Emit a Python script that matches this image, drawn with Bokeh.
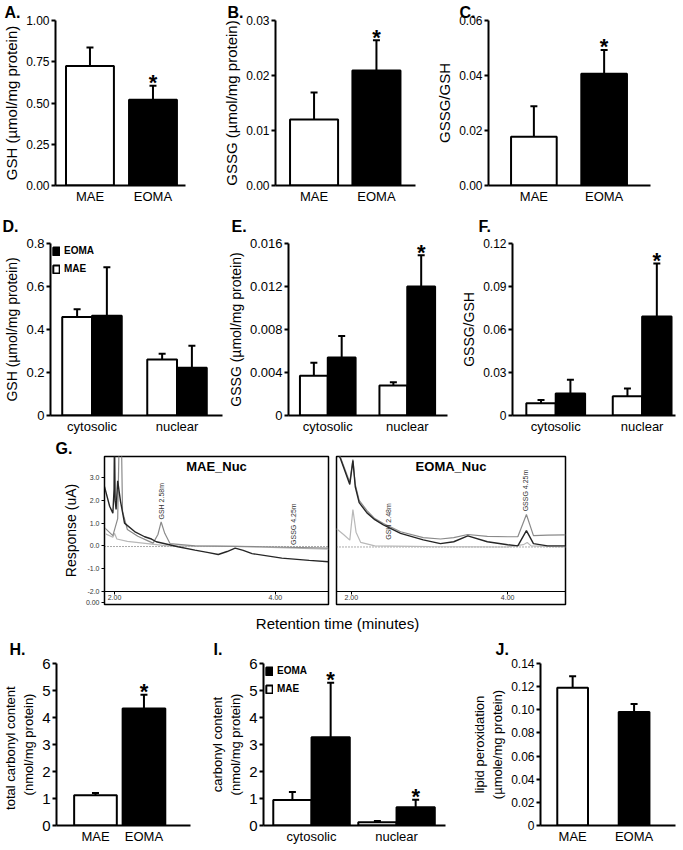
import math
from bokeh.plotting import figure
from bokeh.layouts import row, column
from bokeh.models import (ColumnDataSource, Whisker, TeeHead, FixedTicker, Legend, LegendItem,
                          Label, Range1d, CustomJSTickFormatter, Title)
from bokeh.core.properties import value
from bokeh.embed import file_html
from bokeh.resources import INLINE

FONT = "Liberation Sans"

# ---------------- data ----------------
cells = ["MAE", "EOMA"]
fractions = ["cytosolic", "nuclear"]

A_mean = [0.725, 0.519]
A_sem = [0.111, 0.085]
A_star = [False, True]
A_yticks = [0, 0.25, 0.5, 0.75, 1.0]
A_ylabels = ["0.00", "0.25", "0.50", "0.75", "1.00"]

B_mean = [0.0120, 0.0209]
B_sem = [0.0049, 0.0055]
B_star = [False, True]
B_yticks = [0, 0.01, 0.02, 0.03]
B_ylabels = ["0.00", "0.01", "0.02", "0.03"]

C_mean = [0.0177, 0.0406]
C_sem = [0.0111, 0.0087]
C_star = [False, True]
C_yticks = [0, 0.02, 0.04, 0.06]
C_ylabels = ["0.00", "0.02", "0.04", "0.06"]

D_mae = [0.458, 0.260]
D_mae_sem = [0.036, 0.027]
D_eoma = [0.464, 0.222]
D_eoma_sem = [0.226, 0.103]
D_star = [False, False]
D_yticks = [0, 0.2, 0.4, 0.6, 0.8]
D_ylabels = ["0", "0.2", "0.4", "0.6", "0.8"]

E_mae = [0.0037, 0.0028]
E_mae_sem = [0.0012, 0.0003]
E_eoma = [0.0054, 0.0120]
E_eoma_sem = [0.0020, 0.0029]
E_star = [False, True]
E_yticks = [0, 0.004, 0.008, 0.012, 0.016]
E_ylabels = ["0", "0.004", "0.008", "0.012", "0.016"]

F_mae = [0.0086, 0.0135]
F_mae_sem = [0.0022, 0.0054]
F_eoma = [0.0153, 0.069]
F_eoma_sem = [0.0096, 0.037]
F_star = [False, True]
F_yticks = [0, 0.03, 0.06, 0.09, 0.12]
F_ylabels = ["0", "0.03", "0.06", "0.09", "0.12"]

H_mean = [1.12, 4.33]
H_sem = [0.08, 0.51]
H_star = [False, True]
H_yticks = [0, 1, 2, 3, 4, 5, 6]
H_ylabels = ["0", "1", "2", "3", "4", "5", "6"]

I_mae = [0.94, 0.12]
I_mae_sem = [0.30, 0.05]
I_eoma = [3.27, 0.68]
I_eoma_sem = [2.02, 0.27]
I_star = [True, True]
I_yticks = [0, 1, 2, 3, 4, 5, 6]
I_ylabels = ["0", "1", "2", "3", "4", "5", "6"]

J_mean = [0.119, 0.098]
J_sem = [0.010, 0.007]
J_star = [False, False]
J_yticks = [0, 0.02, 0.04, 0.06, 0.08, 0.10, 0.12, 0.14]
J_ylabels = ["0", "0.02", "0.04", "0.06", "0.08", "0.10", "0.12", "0.14"]

# chromatograms (retention time in min, response in uA)
G_yticks = [-2.5, -2, -1, 0, 1, 2, 3]
G_ylabels = ["0.00", "-2.0", "-1.0", "0.0", "1.0", "2.0", "3.0"]
G_xticks = [2.0, 4.0]
G_xlabels = ["2.00", "4.00"]

mae_dark_t = [1.876, 1.94, 1.98, 1.995, 2.0, 2.008, 2.02, 2.04, 2.075, 2.125, 2.25, 2.375,
              2.46, 2.52, 2.79, 3.0, 3.17, 3.29, 3.4, 3.5, 3.6, 3.71, 4.08, 4.42, 4.66]
mae_dark_r = [2.6, 1.74, 1.44, 2.5, 5.0, 2.0, 1.6, 2.86, 1.96, 1.0, 0.63, 0.4,
              0.3, 0.18, -0.04, -0.19, -0.3, -0.38, -0.25, -0.1, -0.2, -0.34, -0.54, -0.64, -0.7]
mae_gray_t = [1.876, 1.98, 2.04, 2.06, 2.085, 2.1, 2.16, 2.29, 2.41, 2.48, 2.54, 2.58,
              2.625, 2.69, 3.0, 3.83, 4.66]
mae_gray_r = [0.8, 0.45, 1.2, 5.0, 5.0, 1.52, 0.72, 0.42, 0.23, 0.12, 0.5, 1.05,
              0.55, 0.1, 0.0, -0.04, -0.1]
mae_light_t = [1.876, 1.98, 2.0, 2.03, 2.16, 2.41, 2.66, 3.5, 4.66]
mae_light_r = [0.55, 0.38, 0.55, 0.3, 0.2, 0.1, 0.0, -0.02, -0.15]
mae_base_t = [1.876, 4.66]
mae_base_r = [-0.03, -0.03]
mae_peak_t = [2.585, 4.22]
mae_peak_r = [1.07, -0.05]
mae_peak_txt = ["GSH 2.58m", "GSSG 4.25m"]

eoma_t = [1.81, 1.86, 1.98, 2.02, 2.05, 2.1, 2.2, 2.3, 2.41, 2.63, 2.92, 3.14, 3.31,
          3.49, 3.74, 4.0, 4.13, 4.24, 4.33, 4.51, 4.74]
eoma_dark_r = [4.2, 3.84, 2.7, 3.75, 2.6, 1.9, 1.45, 1.15, 0.92, 0.55, 0.26, 0.1, 0.18,
               0.44, 0.18, 0.05, 0.0, 0.67, 0.1, 0.0, 0.0]
eoma_gray_r = [4.5, 3.9, 2.8, 3.8, 2.7, 2.0, 1.55, 1.2, 0.98, 0.62, 0.36, 0.3, 0.36,
               0.5, 0.42, 0.4, 0.4, 1.38, 0.45, 0.47, 0.48]
eoma_light_t = [1.81, 1.9, 1.98, 2.02, 2.06, 2.12, 2.3, 3.0, 4.0, 4.2, 4.25, 4.3, 4.74]
eoma_light_r = [0.75, 0.5, 0.25, 1.6, 0.6, 0.15, 0.0, -0.03, -0.05, 0.05, 0.15, 0.0, -0.05]
eoma_base_t = [1.81, 4.74]
eoma_base_r = [-0.05, -0.05]
eoma_peak_t = [2.47, 4.23]
eoma_peak_r = [0.18, 1.43]
eoma_peak_txt = ["GSH 2.48m", "GSSG 4.25m"]


# ---------------- helpers ----------------
def label_formatter(ticks, labels):
    return CustomJSTickFormatter(args=dict(tv=list(ticks), tl=list(labels)), code="""
        let best = 0;
        for (let i = 0; i < tv.length; i++) {
            if (Math.abs(tv[i] - tick) < Math.abs(tv[best] - tick)) { best = i; }
        }
        return tl[best];
    """)


def bar_fig(w, h, borders, xr, ymax):
    l, r, t, b = borders
    p = figure(width=w, height=h, x_range=Range1d(*xr), y_range=Range1d(0, ymax),
               output_backend="svg", toolbar_location=None, title=None,
               min_border_left=l, min_border_right=r, min_border_top=t, min_border_bottom=b)
    p.outline_line_color = None
    p.grid.visible = False
    return p


def style_axes(p, yticks, ylabels, ylabel, xticks, xlabels, tick_fs, title_fs, cat_fs):
    ya = p.yaxis[0]
    ya.ticker = FixedTicker(ticks=yticks)
    ya.formatter = label_formatter(yticks, ylabels)
    ya.axis_label = ylabel
    ya.axis_label_text_font = FONT
    ya.axis_label_text_font_size = f"{title_fs}px"
    ya.axis_label_text_font_style = "normal"
    ya.axis_label_text_color = "black"
    ya.axis_label_standoff = 3
    ya.major_label_text_font = FONT
    ya.major_label_text_font_size = f"{tick_fs}px"
    ya.major_label_text_color = "black"
    ya.major_label_standoff = 2
    ya.axis_line_width = 2
    ya.major_tick_line_width = 2
    ya.major_tick_out = 4
    ya.major_tick_in = 0
    ya.minor_tick_line_color = None
    xa = p.xaxis[0]
    xa.ticker = FixedTicker(ticks=xticks)
    xa.formatter = label_formatter(xticks, xlabels)
    xa.major_tick_line_color = None
    xa.major_tick_out = 0
    xa.major_tick_in = 0
    xa.minor_tick_line_color = None
    xa.axis_line_width = 2
    xa.major_label_text_font = FONT
    xa.major_label_text_font_size = f"{cat_fs}px"
    xa.major_label_text_color = "black"
    xa.major_label_standoff = 3


def add_bars(p, xs, means, sems, color, width):
    r = p.vbar(x=xs, top=means, width=width, fill_color=color, line_color="black", line_width=2)
    src = ColumnDataSource(dict(base=xs, lower=means, upper=[m + s for m, s in zip(means, sems)]))
    p.add_layout(Whisker(source=src, base="base", lower="lower", upper="upper",
                         line_color="black", line_width=2, lower_head=None,
                         upper_head=TeeHead(size=7, line_color="black", line_width=2)))
    return r


def add_stars(p, xs, means, sems, stars):
    sx = [x for x, s in zip(xs, stars) if s]
    sy = [m + e for m, e, s in zip(means, sems, stars) if s]
    if sx:
        p.text(x=sx, y=sy, text=["*"] * len(sx), text_font=value(FONT), text_font_size="22px",
               text_font_style="bold", text_align="center", text_baseline="alphabetic",
               y_offset=-3, text_color="black")


def letter(p, txt, offset, standoff):
    p.add_layout(Title(text=txt, align="left", offset=offset, standoff=standoff,
                       text_font=FONT, text_font_size="16px", text_font_style="bold",
                       text_color="black"), "above")


def add_legend(p, r_eoma, r_mae):
    lg = Legend(items=[LegendItem(label="EOMA", renderers=[r_eoma]),
                       LegendItem(label="MAE", renderers=[r_mae])],
                location="top_left", margin=2, padding=0, spacing=7,
                glyph_width=8, glyph_height=10, label_height=10, label_standoff=4,
                label_text_font=FONT, label_text_font_size="10px", label_text_font_style="bold",
                label_text_color="black",
                border_line_color=None, background_fill_alpha=0)
    p.add_layout(lg)


def simple_panel(w, h, borders, xr, ymax, means, sems, stars, yticks, ylabels, ylabel,
                 width, tick_fs, title_fs, cat_fs):
    p = bar_fig(w, h, borders, xr, ymax)
    xs = list(range(len(cells)))
    style_axes(p, yticks, ylabels, ylabel, xs, cells, tick_fs, title_fs, cat_fs)
    colors = ["white", "black"]
    for i in xs:
        add_bars(p, [xs[i]], [means[i]], [sems[i]], colors[i], width)
    add_stars(p, xs, means, sems, stars)
    return p


def grouped_panel(w, h, borders, xr, ymax, mae, mae_sem, eoma, eoma_sem, stars, yticks,
                  ylabels, ylabel, off, width, tick_fs, title_fs, cat_fs, legend=False):
    p = bar_fig(w, h, borders, xr, ymax)
    g = list(range(len(fractions)))
    style_axes(p, yticks, ylabels, ylabel, g, fractions, tick_fs, title_fs, cat_fs)
    x_mae = [i - off for i in g]
    x_eoma = [i + off for i in g]
    r_mae = add_bars(p, x_mae, mae, mae_sem, "white", width)
    r_eoma = add_bars(p, x_eoma, eoma, eoma_sem, "black", width)
    add_stars(p, x_eoma, eoma, eoma_sem, stars)
    if legend:
        add_legend(p, r_eoma, r_mae)
    return p


# ---------------- row 1 ----------------
H1 = 206
pA = simple_panel(220, H1, (53, 35, 20, 20), (-0.547, 1.516), 1.0, A_mean, A_sem, A_star,
                  A_yticks, A_ylabels, "GSH (\u00b5mol/mg protein)", 0.76, 12, 15, 13)
letter(pA, "A.", -51, 0)
pB = simple_panel(213, H1, (48, 18, 20, 20), (-0.618, 1.626), 0.03, B_mean, B_sem, B_star,
                  B_yticks, B_ylabels, "GSSG (\u00b5mol/mg protein)", 0.77, 12, 15, 13)
letter(pB, "B.", -48, 0)
pC = simple_panel(249, H1, (51, 32, 20, 20), (-0.646, 1.66), 0.06, C_mean, C_sem, C_star,
                  C_yticks, C_ylabels, "GSSG/GSH", 0.65, 12, 15, 13)
letter(pC, "C.", -29, 0)

# ---------------- row 2 ----------------
H2 = 230
pD = grouped_panel(224, H2, (50, 2, 37, 18), (-0.488, 1.535), 0.8, D_mae, D_mae_sem, D_eoma,
                   D_eoma_sem, D_star, D_yticks, D_ylabels, "GSH (\u00b5mol/mg protein)",
                   0.175, 0.35, 13, 14, 13, legend=True)
letter(pD, "D.", -48, 18)
pE = grouped_panel(234, H2, (57, 11, 37, 18), (-0.494, 1.506), 0.016, E_mae, E_mae_sem, E_eoma,
                   E_eoma_sem, E_star, E_yticks, E_ylabels, "GSSG (\u00b5mol/mg protein)",
                   0.175, 0.35, 13, 14, 13)
letter(pE, "E.", -57, 18)
pF = grouped_panel(224, H2, (51, 7, 37, 18), (-0.5, 1.386), 0.12, F_mae, F_mae_sem, F_eoma,
                   F_eoma_sem, F_star, F_yticks, F_ylabels, "GSSG/GSH",
                   0.17, 0.34, 12, 14, 13)
letter(pF, "F.", -34, 18)

# ---------------- row 3 (chromatograms) ----------------
HG = 178
YR = (-2.58, 3.93)


def chrom_fig(w, borders, xr, show_y):
    l, r, t, b = borders
    p = figure(width=w, height=HG, x_range=Range1d(*xr), y_range=Range1d(*YR),
               output_backend="svg", toolbar_location=None, title=None,
               y_axis_location="left" if show_y else None,
               min_border_left=l, min_border_right=r, min_border_top=t, min_border_bottom=b)
    p.outline_line_color = "black"
    p.outline_line_width = 1.5
    p.grid.visible = False
    xa = p.xaxis[0]
    xa.fixed_location = -2.0
    xa.ticker = FixedTicker(ticks=G_xticks)
    xa.formatter = label_formatter(G_xticks, G_xlabels)
    xa.axis_line_width = 1
    xa.major_tick_out = 3
    xa.major_tick_in = 0
    xa.minor_tick_line_color = None
    xa.major_label_text_font = FONT
    xa.major_label_text_font_size = "7px"
    xa.major_label_text_color = "#333333"
    xa.major_label_standoff = 1
    if show_y:
        ya = p.yaxis[0]
        ya.ticker = FixedTicker(ticks=G_yticks)
        ya.formatter = label_formatter(G_yticks, G_ylabels)
        ya.axis_line_width = 1
        ya.major_tick_out = 3
        ya.major_tick_in = 0
        ya.minor_tick_line_color = None
        ya.major_label_text_font = FONT
        ya.major_label_text_font_size = "7px"
        ya.major_label_text_color = "#333333"
        ya.major_label_standoff = 2
        ya.axis_label = "Response (uA)"
        ya.axis_label_text_font = FONT
        ya.axis_label_text_font_size = "14px"
        ya.axis_label_text_font_style = "normal"
        ya.axis_label_text_color = "black"
        ya.axis_label_standoff = 4
    return p


def chrom_traces(p, base_t, base_r, light_t, light_r, gray_t, gray_r, dark_t, dark_r,
                 pk_t, pk_r, pk_txt, title, xr):
    p.line(base_t, base_r, line_color="#555555", line_width=1, line_dash="1 2")
    p.line(light_t, light_r, line_color="#b8b8b8", line_width=1.2)
    p.line(gray_t, gray_r, line_color="#8a8a8a", line_width=1.2)
    p.line(dark_t, dark_r, line_color="#262626", line_width=1.4)
    p.text(x=pk_t, y=pk_r, text=pk_txt, angle=math.pi / 2, text_align="left",
           text_baseline="middle", text_font=value(FONT), text_font_size="7px",
           text_color="#333333", y_offset=-2)
    p.add_layout(Label(x=(xr[0] + xr[1]) / 2, y=YR[1], y_offset=-2, text=title,
                       text_font=FONT, text_font_size="13px", text_font_style="bold",
                       text_align="center", text_baseline="top", text_color="black"))


GL_XR = (1.876, 4.66)
GR_XR = (1.81, 4.74)
pGl = chrom_fig(330, (104, 2, 20, 10), GL_XR, True)
chrom_traces(pGl, mae_base_t, mae_base_r, mae_light_t, mae_light_r, mae_gray_t, mae_gray_r,
             mae_dark_t, mae_dark_r, mae_peak_t, mae_peak_r, mae_peak_txt, "MAE_Nuc", GL_XR)
letter(pGl, "G.", -49, 0)
pGr = chrom_fig(352, (6, 117, 20, 10), GR_XR, False)
chrom_traces(pGr, eoma_base_t, eoma_base_r, eoma_light_t, eoma_light_r, eoma_t, eoma_gray_r,
             eoma_t, eoma_dark_r, eoma_peak_t, eoma_peak_r, eoma_peak_txt, "EOMA_Nuc", GR_XR)

pT = figure(width=682, height=18, x_range=Range1d(0, 1), y_range=Range1d(0, 1),
            output_backend="svg", toolbar_location=None, x_axis_location=None,
            y_axis_location=None, min_border=0, title=None)
pT.outline_line_color = None
pT.grid.visible = False
pT.add_layout(Label(x=337, y=9, x_units="canvas", y_units="canvas",
                    text="Retention time (minutes)", text_font=FONT, text_font_size="15px",
                    text_align="center", text_baseline="middle", text_color="black"))

# ---------------- row 4 ----------------
H4 = 216
pH = simple_panel(195, H4, (49, 5, 31, 23), (-0.804, 1.96), 6, H_mean, H_sem, H_star,
                  H_yticks, H_ylabels, "total  carbonyl  content\n(nmol/mg protein)", 0.88,
                  15, 13, 13)
letter(pH, "H.", -47, 12)
pI = grouped_panel(274, H4, (68, 24, 31, 23), (-0.565, 1.576), 6, I_mae, I_mae_sem, I_eoma,
                   I_eoma_sem, I_star, I_yticks, I_ylabels,
                   "carbonyl content\n(nmol/mg protein)", 0.225, 0.45, 15, 13, 13, legend=True)
letter(pI, "I.", -50, 12)
pJ = simple_panel(213, H4, (61, 7, 31, 23), (-0.523, 1.674), 0.14, J_mean, J_sem, J_star,
                  J_yticks, J_ylabels, "lipid peroxidation\n(\u00b5mole/mg protein)", 0.5,
                  12, 13, 13)
letter(pJ, "J.", -45, 12)

layout = column(row(pA, pB, pC), row(pD, pE, pF), row(pGl, pGr), pT, row(pH, pI, pJ))

open("out.html", "w").write(file_html(layout, INLINE))
